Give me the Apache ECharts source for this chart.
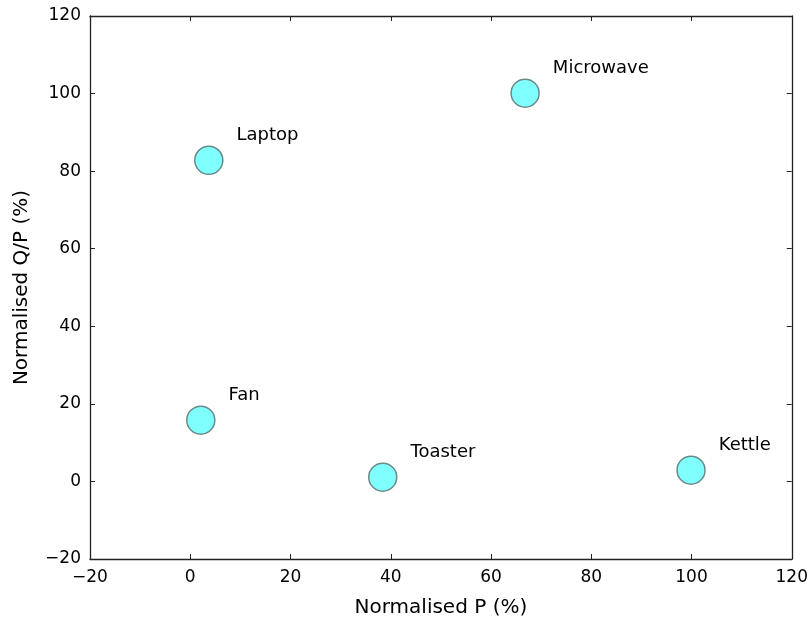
<!DOCTYPE html>
<html>
<head>
<meta charset="utf-8">
<script src="https://cdn.jsdelivr.net/npm/echarts@6/dist/echarts.min.js"></script>
<style>
  html, body { margin: 0; padding: 0; background: #fff; }
  #chart { width: 811px; height: 623px; }
</style>
</head>
<body>
<div id="chart"></div>
<script>
const appliances = ['Laptop', 'Microwave', 'Fan', 'Toaster', 'Kettle']
const normP = [3.7, 66.8, 2.1, 38.4, 99.9]
const normQP = [82.8, 100.1, 15.8, 1.1, 2.9]

const font = 'DejaVu Sans'
const minusFmt = v => String(v).replace('-', '\u2212')

const chart = echarts.init(document.getElementById('chart'))

const baseAxis = {
  type: 'value',
  min: -20,
  max: 120,
  interval: 20,
  splitLine: { show: false },
  axisLine: { show: true, onZero: false, lineStyle: { color: '#222', width: 1.3 } },
  axisTick: { show: true, inside: true, length: 5, lineStyle: { color: '#222' } }
}

const option = {
  backgroundColor: '#fff',
  animation: false,
  grid: { left: 90, right: 18, top: 16, bottom: 64 },
  xAxis: [
    {
      ...baseAxis,
      position: 'bottom',
      name: 'Normalised P (%)',
      nameLocation: 'middle',
      nameGap: 39,
      nameTextStyle: { color: '#000', fontSize: 20, fontFamily: font },
      axisLabel: { color: '#000', fontSize: 17, fontFamily: font, margin: 10, formatter: minusFmt }
    },
    { ...baseAxis, position: 'top', axisLabel: { show: false } }
  ],
  yAxis: [
    {
      ...baseAxis,
      position: 'left',
      name: 'Normalised Q/P (%)',
      nameLocation: 'middle',
      nameGap: 58,
      nameTextStyle: { color: '#000', fontSize: 20, fontFamily: font },
      axisLabel: { color: '#000', fontSize: 17, fontFamily: font, margin: 9, formatter: minusFmt }
    },
    { ...baseAxis, position: 'right', axisLabel: { show: false } }
  ],
  series: [
    {
      type: 'scatter',
      symbolSize: 28,
      data: appliances.map((name, i) => ({ name, value: [normP[i], normQP[i]] })),
      itemStyle: { color: '#80ffff', borderColor: '#6a8a8a', borderWidth: 1.5, opacity: 1 },
      label: {
        show: true,
        formatter: p => p.name,
        position: 'right',
        distance: 13,
        offset: [0, -25],
        color: '#000',
        fontSize: 18,
        fontFamily: font
      }
    }
  ]
}

chart.setOption(option)
window.addEventListener('resize', () => chart.resize())
</script>
</body>
</html>
